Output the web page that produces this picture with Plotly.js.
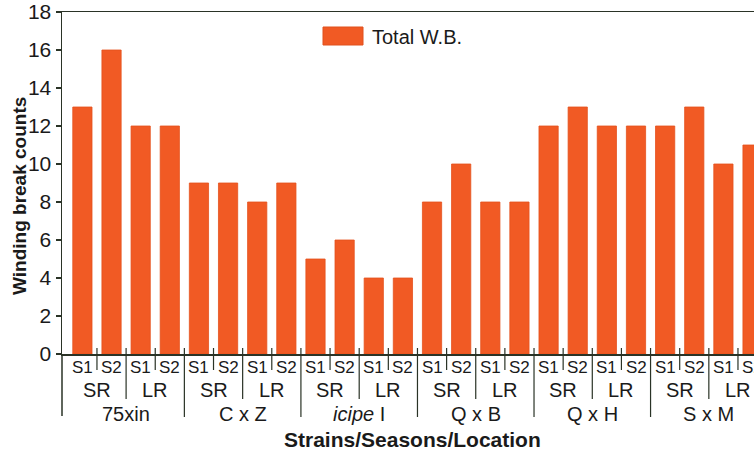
<!DOCTYPE html>
<html>
<head>
<meta charset="utf-8">
<script src="https://cdn.plot.ly/plotly-3.0.1.min.js"></script>
<style>html,body{margin:0;padding:0;background:#fff;}#chart{width:754px;height:455px;}</style>
</head>
<body>
<div id="chart"></div>
<script>
// ---- data ----
var strains = ["75xin", "C x Z", "<i>icipe</i> I", "Q x B", "Q x H", "S x M"];
var locations = ["SR", "LR"];
var seasons = ["S1", "S2"];
var seriesName = "Total W.B.";
var values75xin = [13, 16, 12, 12];
var valuesCxZ   = [9, 9, 8, 9];
var valuesIcipe = [5, 6, 4, 4];
var valuesQxB   = [8, 10, 8, 8];
var valuesQxH   = [12, 13, 12, 12];
var valuesSxM   = [12, 13, 10, 11];
var yTicks = [0, 2, 4, 6, 8, 10, 12, 14, 16, 18];
var yTitle = "Winding break counts";
var xTitle = "Strains/Seasons/Location";

// ---- build ----
var allValues = [].concat(values75xin, valuesCxZ, valuesIcipe, valuesQxB, valuesQxH, valuesSxM);
var xs = allValues.map(function (_, i) { return i; });

var W = 754, H = 455;
var L = 62, T = 12, B = 101;
var plotW = W - L, plotH = H - T - B;
function py(p) { return (H - B - p) / plotH; }   // pixel y -> paper y
function px(p) { return (p - L) / plotW; }       // pixel x -> paper x

var textColor = "#1a1a1a";
var lineColor = "#2a3326";
var barColor = "#F15A24";
var font = "Liberation Sans, Arial, sans-serif";

var annotations = [];
var shapes = [];
var nPer = locations.length * seasons.length;

strains.forEach(function (s, si) {
  var base = si * nPer;
  annotations.push({x: base + (nPer - 1) / 2, y: py(414), xref: "x", yref: "paper",
    text: s, showarrow: false, font: {family: font, size: 20, color: textColor},
    xanchor: "center", yanchor: "middle"});
  locations.forEach(function (loc, li) {
    var lb = base + li * seasons.length;
    annotations.push({x: lb + (seasons.length - 1) / 2, y: py(390), xref: "x", yref: "paper",
      text: loc, showarrow: false, font: {family: font, size: 20, color: textColor},
      xanchor: "center", yanchor: "middle"});
    seasons.forEach(function (se, ei) {
      annotations.push({x: lb + ei, y: py(367), xref: "x", yref: "paper",
        text: se, showarrow: false, font: {family: font, size: 17, color: textColor},
        xanchor: "center", yanchor: "middle"});
    });
  });
});

// separators
for (var i = 0; i < allValues.length; i++) {
  var bnd = i + 0.5;
  var k = (i + 1) % nPer;
  var bottom;
  if (k === 0) bottom = 417;
  else if (k % seasons.length === 0) bottom = 399;
  else bottom = 370;
  shapes.push({type: "line", xref: "x", yref: "paper", x0: bnd, x1: bnd,
    y0: py(348), y1: py(bottom), line: {color: lineColor, width: 1.2}});
}
// left axis extension
shapes.push({type: "line", xref: "paper", yref: "paper", x0: 0, x1: 0,
  y0: 0, y1: py(416), line: {color: lineColor, width: 1.5}});

// legend (manual)
shapes.push({type: "rect", xref: "paper", yref: "paper",
  x0: px(323), x1: px(363), y0: py(45), y1: py(27),
  fillcolor: barColor, line: {color: "#e0501c", width: 1}});
annotations.push({x: px(370), y: py(37), xref: "paper", yref: "paper", xanchor: "left", yanchor: "middle",
  text: seriesName, showarrow: false, font: {family: font, size: 20, color: textColor}});

// titles
annotations.push({x: px(412), y: py(439), xref: "paper", yref: "paper", xanchor: "center", yanchor: "middle",
  text: "<b>" + xTitle + "</b>", showarrow: false, font: {family: font, size: 21, color: textColor}});
annotations.push({x: px(19), y: py(196), xref: "paper", yref: "paper", xanchor: "center", yanchor: "middle",
  textangle: -90,
  text: "<b>" + yTitle + "</b>", showarrow: false, font: {family: font, size: 19, color: textColor}});

var trace = {
  type: "bar", x: xs, y: allValues, name: seriesName,
  width: 0.66,
  marker: {color: barColor, line: {color: "#e4521d", width: 0.8}},
  hoverinfo: "y"
};

var layout = {
  width: W, height: H,
  margin: {l: L, r: 0, t: T, b: B},
  paper_bgcolor: "#ffffff", plot_bgcolor: "#ffffff",
  showlegend: false,
  xaxis: {range: [-0.7, 23.05], showticklabels: false, ticks: "", showgrid: false, zeroline: false,
    showline: true, mirror: true, linecolor: lineColor, linewidth: 1.5, fixedrange: true},
  yaxis: {range: [0, 18], tickvals: yTicks, ticktext: yTicks.map(String), ticks: "outside", ticklen: 5,
    tickcolor: lineColor, tickwidth: 1.3,
    showgrid: false, zeroline: false, showline: true, linecolor: lineColor, linewidth: 1.5,
    tickfont: {family: font, size: 21, color: textColor}, fixedrange: true},
  annotations: annotations,
  shapes: shapes
};

Plotly.newPlot("chart", [trace], layout, {displayModeBar: false, staticPlot: true});
</script>
</body>
</html>
